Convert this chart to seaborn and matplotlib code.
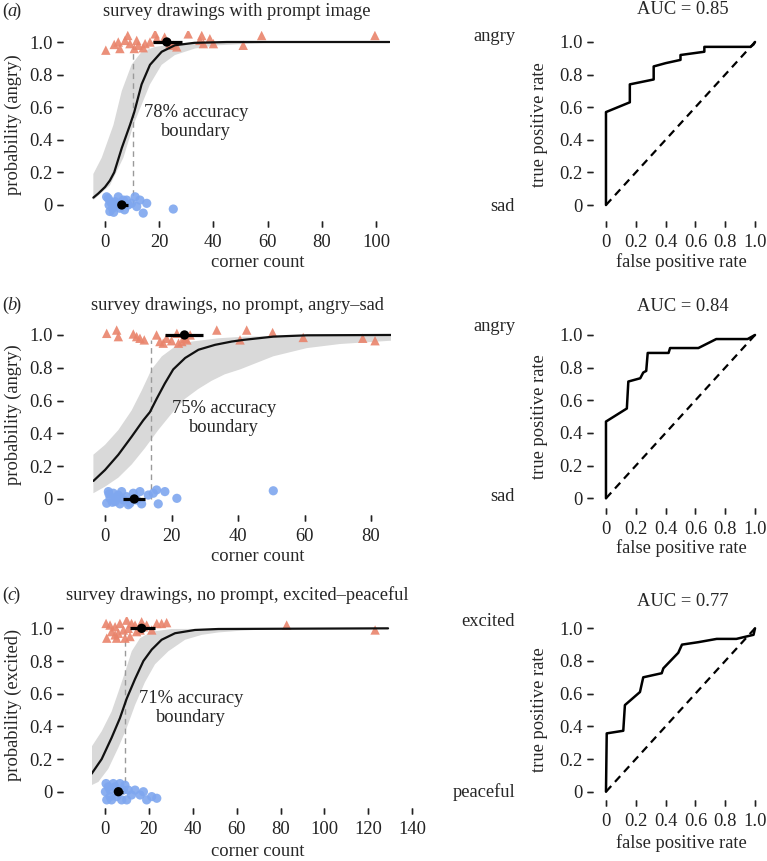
import numpy as np
import matplotlib
matplotlib.use("Agg")
import matplotlib.pyplot as plt
import seaborn as sns

W, H = 767, 861
RED = "#E9846C"
BLUE = "#7FA7EF"
BAND = "#D9D9D9"

# ---------------- panel (a): survey drawings with prompt image ----------------
a_angry_x = [0.3, 3.4, 4.9, 5.5, 7.4, 8.4, 9.2, 10.8, 11.7, 12.3, 14.1, 14.8, 16.6, 18.5,
             19.1, 22.0, 24.0, 25.2, 26.5, 30.7, 35.0, 35.7, 36.3, 38.7, 40.0, 51.0, 57.8, 99.6]
a_angry_y = [0.95, 0.985, 1.0, 0.96, 1.01, 1.04, 0.99, 0.96, 1.01, 0.98, 0.965, 0.99, 1.0, 1.05,
             1.02, 1.03, 0.99, 0.98, 0.97, 1.05, 1.01, 1.04, 0.99, 1.02, 0.99, 0.98, 1.04, 1.04]
a_sad_x = [0.6, 1.2, 1.8, 1.5, 2.5, 2.8, 3.7, 3.2, 4.9, 5.5, 4.2, 6.8, 8.0, 8.6, 9.8, 11.1,
           11.7, 12.9, 14.1, 15.4, 25.2, 2.0, 5.0, 7.2]
a_sad_y = [0.05, 0.04, -0.04, 0.0, 0.01, -0.02, 0.02, -0.045, 0.05, -0.02, 0.0, 0.03, 0.03, 0.0,
           0.01, 0.05, -0.01, 0.03, -0.05, 0.01, -0.025, 0.02, 0.01, -0.03]
a_curve_x = [-4.3, -2.5, 0.0, 1.8, 3.4, 6.2, 9.2, 10.8, 13.5, 16.6, 20.9, 25.8, 33.0, 45.0, 105.0]
a_curve_p = [0.045, 0.07, 0.11, 0.15, 0.20, 0.35, 0.49, 0.57, 0.74, 0.86, 0.94, 0.98, 0.995, 1.0, 1.0]
a_hi_x = [-4.3, -1.2, 3.1, 6.2, 9.8, 13.5, 18.5, 27.0, 40.0, 60.0, 105.0]
a_hi_p = [0.19, 0.29, 0.49, 0.70, 0.86, 0.94, 0.97, 0.99, 0.998, 1.0, 1.0]
a_lo_x = [-4.3, 1.8, 6.8, 10.5, 12.9, 16.6, 20.9, 25.8, 33.2, 41.8, 60.0, 105.0]
a_lo_p = [0.03, 0.12, 0.29, 0.49, 0.59, 0.74, 0.86, 0.92, 0.96, 0.98, 0.995, 1.0]
a_boundary = 10.5
a_mean_x = [6.2, 22.8]
a_mean_lo = [4.9, 17.8]
a_mean_hi = [8.6, 28.3]
a_fpr = [0, 0, 0.16, 0.16, 0.32, 0.32, 0.40, 0.50, 0.50, 0.66, 0.66, 0.97, 0.99, 1.0]
a_tpr = [0, 0.57, 0.63, 0.74, 0.77, 0.85, 0.87, 0.89, 0.92, 0.94, 0.97, 0.97, 0.985, 1.0]

# ---------------- panel (b): no prompt, angry-sad ----------------
b_angry_x = [0.5, 3.5, 4.0, 8.5, 9.5, 10.5, 11.8, 15.5, 16.5, 17.5, 18.5, 20.0, 21.6, 22.1,
             23.1, 24.1, 24.6, 25.6, 33.6, 40.6, 42.6, 50.4, 59.6, 77.5, 81.2]
b_angry_y = [1.01, 1.03, 0.99, 1.006, 0.99, 0.98, 0.97, 1.0, 0.96, 0.95, 0.98, 0.965, 1.01, 0.95,
             0.96, 0.98, 0.97, 1.0, 1.03, 0.97, 1.03, 1.015, 0.985, 0.98, 0.965]
b_sad_x = [0.5, 1.0, 1.5, 1.2, 2.5, 2.2, 3.0, 3.5, 4.0, 4.5, 5.0, 5.5, 6.5, 7.0, 7.5, 8.5, 9.5,
           10.5, 11.0, 13.0, 14.5, 15.5, 16.0, 18.0, 21.6, 50.6]
b_sad_y = [-0.026, 0.045, 0.004, 0.03, 0.035, -0.02, -0.016, 0.01, 0.024, -0.03, 0.045, -0.006,
           0.014, -0.035, -0.026, 0.035, -0.006, 0.045, -0.03, 0.024, 0.035, 0.055, -0.03, 0.045,
           0.004, 0.05]
b_curve_x = [-3.5, 0.0, 4.0, 8.0, 11.5, 13.5, 15.5, 18.0, 20.5, 24.1, 28.1, 33.1, 38.1, 41.6,
             50.6, 60.7, 86.0]
b_curve_p = [0.11, 0.177, 0.27, 0.38, 0.48, 0.53, 0.61, 0.705, 0.79, 0.86, 0.91, 0.94, 0.96, 0.97,
             0.99, 0.998, 1.0]
b_hi_x = [-3.5, 0.0, 4.0, 8.0, 11.0, 14.0, 17.1, 21.1, 26.1, 34.1, 42.1, 60.0, 86.0]
b_hi_p = [0.27, 0.33, 0.42, 0.54, 0.66, 0.79, 0.87, 0.93, 0.96, 0.98, 0.99, 0.995, 0.995]
b_lo_x = [-3.5, 0.0, 4.0, 8.0, 12.0, 16.0, 20.0, 24.0, 28.0, 32.0, 36.0, 40.6, 50.6, 60.7, 70.7, 86.0]
b_lo_p = [0.035, 0.075, 0.13, 0.21, 0.31, 0.42, 0.52, 0.61, 0.67, 0.72, 0.76, 0.79, 0.87, 0.92,
          0.945, 0.965]
b_boundary = 13.8
b_mean_x = [8.8, 23.9]
b_mean_lo = [5.5, 18.0]
b_mean_hi = [12.0, 29.6]
b_fpr = [0, 0, 0.14, 0.15, 0.23, 0.25, 0.27, 0.28, 0.42, 0.43, 0.62, 0.74, 0.95, 1.0]
b_tpr = [0, 0.47, 0.55, 0.715, 0.735, 0.77, 0.78, 0.89, 0.89, 0.92, 0.92, 0.975, 0.975, 1.0]

# ---------------- panel (c): no prompt, excited-peaceful ----------------
c_angry_x = [0.5, 0.8, 2.3, 3.0, 4.6, 4.6, 5.3, 6.1, 6.8, 8.4, 9.1, 9.9, 10.6, 11.4, 12.1,
             13.7, 14.4, 16.0, 16.7, 17.5, 19.0, 21.3, 23.6, 25.8, 28.1, 82.8, 123.1]
c_angry_y = [1.03, 0.94, 1.02, 0.98, 1.01, 0.96, 0.94, 0.97, 1.03, 0.99, 0.94, 1.05, 1.0, 0.95,
             1.03, 1.02, 0.98, 0.99, 1.04, 1.01, 1.02, 0.99, 1.03, 1.03, 1.035, 1.02, 0.99]
c_sad_x = [0.5, 0.8, 2.3, 4.6, 5.3, 6.8, 8.4, 9.9, 13.7, 16.0, 17.5, 19.0, 21.3, 23.6,
           1.5, 3.0, 3.8, 6.1, 7.6, 9.1, 0.2, 2.3, 10.6, 12.1]
c_sad_y = [0.05, -0.05, 0.01, 0.03, -0.03, 0.05, 0.01, -0.05, 0.01, -0.02, 0.0, -0.05, -0.03, -0.04,
           0.03, -0.05, 0.05, 0.0, -0.05, 0.04, 0.0, -0.03, 0.01, -0.02]
c_curve_x = [-6.1, -1.5, 3.0, 6.8, 9.9, 13.7, 17.5, 21.3, 25.8, 31.9, 41.0, 51.7, 129.0]
c_curve_p = [0.11, 0.20, 0.33, 0.45, 0.57, 0.69, 0.80, 0.87, 0.93, 0.97, 0.99, 0.996, 1.0]
c_hi_x = [-6.1, -1.5, 3.0, 6.1, 9.1, 12.2, 16.0, 21.3, 30.4, 129.0]
c_hi_p = [0.275, 0.37, 0.49, 0.61, 0.73, 0.86, 0.94, 0.98, 0.996, 1.0]
c_lo_x = [-6.1, -3.0, 1.5, 6.1, 9.9, 13.7, 18.2, 22.8, 28.9, 36.5, 44.1, 51.7, 61.5, 75.0, 129.0]
c_lo_p = [0.04, 0.06, 0.14, 0.27, 0.39, 0.53, 0.67, 0.78, 0.86, 0.93, 0.96, 0.975, 0.985, 0.995, 1.0]
c_boundary = 9.1
c_mean_x = [6.1, 16.7]
c_mean_lo = [4.6, 11.4]
c_mean_hi = [8.4, 22.8]
c_fpr = [0, 0.005, 0.116, 0.127, 0.228, 0.25, 0.374, 0.385, 0.485, 0.51, 0.62, 0.743, 0.875, 0.99, 1.0]
c_tpr = [0, 0.357, 0.373, 0.53, 0.61, 0.70, 0.725, 0.755, 0.85, 0.90, 0.915, 0.935, 0.935, 0.96, 1.0]

diag = [0, 1]

sns.set_theme(style="ticks")
plt.rcParams["font.family"] = ["Liberation Serif", "DejaVu Serif"]
plt.rcParams["font.size"] = 13.3
plt.rcParams.update({
    "xtick.bottom": True, "ytick.left": True,
    "xtick.direction": "out", "ytick.direction": "out",
    "xtick.major.size": 4.3, "ytick.major.size": 4.3,
    "xtick.major.width": 1.0, "ytick.major.width": 1.0,
    "xtick.color": "#222222", "ytick.color": "#222222",
})

fig = plt.figure(figsize=(W / 100, H / 100), dpi=100)


def px_axes(box):
    left, top, right, bottom = box
    return fig.add_axes([left / W, 1 - bottom / H, (right - left) / W, (bottom - top) / H])


def px_text(x, y, s, **kw):
    kw.setdefault("ha", "center")
    kw.setdefault("va", "center")
    fig.text(x / W, 1 - y / H, s, **kw)


def r_style(ax, box, left_off, bottom_off, tick_len=6.0):
    # R-like axes: no box line, detached ticks (offsets in pixels)
    left, top, right, bottom = box
    w, h = right - left, bottom - top
    sns.despine(ax=ax, top=True, right=True)
    ax.spines["left"].set_position(("outward", left_off * 0.72))
    ax.spines["bottom"].set_position(("outward", bottom_off * 0.72))
    ax.spines["left"].set_color("none")
    ax.spines["bottom"].set_color("none")
    ax.tick_params(axis="both", which="major", direction="out", length=4.3, width=1.0,
                   color="#222222", labelsize=13.3, left=True, bottom=True)
    ax.tick_params(axis="y", pad=3.3)
    ax.tick_params(axis="x", pad=5)
    ax.set_facecolor("none")
    # explicit tick segments at the tick values (axes-fraction offsets, unclipped)
    yt = ax.get_yticks()
    xt = ax.get_xticks()
    ax.hlines(yt, -(left_off + tick_len) / w, -left_off / w, colors="#222222", lw=1.0,
              transform=ax.get_yaxis_transform(), clip_on=False, zorder=10)
    ax.vlines(xt, -(bottom_off + tick_len) / h, -bottom_off / h, colors="#222222", lw=1.0,
              transform=ax.get_xaxis_transform(), clip_on=False, zorder=10)


def fit_panel(box, xlim, xticks, angry_x, angry_y, sad_x, sad_y, curve_x, curve_p,
              hi_x, hi_p, lo_x, lo_p, boundary, mean_x, mean_lo, mean_hi):
    ax = px_axes(box)
    ax.fill(np.concatenate([hi_x, lo_x[::-1]]), np.concatenate([hi_p, lo_p[::-1]]),
            color=BAND, lw=0, zorder=1)
    ax.plot([boundary, boundary], [0, 0.97], color="#9A9A9A", lw=1.0, ls=(0, (4, 3)), zorder=2)
    sns.scatterplot(x=angry_x, y=angry_y, marker="^", s=46, color=RED, edgecolor="none",
                    alpha=0.9, ax=ax, zorder=3)
    sns.scatterplot(x=sad_x, y=sad_y, marker="o", s=44, color=BLUE, edgecolor="none",
                    alpha=0.9, ax=ax, zorder=3)
    sns.lineplot(x=curve_x, y=curve_p, estimator=None, sort=False, color="#111111", lw=1.6,
                 ax=ax, zorder=4)
    for yv, lo, hi in zip([0, 1], mean_lo, mean_hi):
        ax.plot([lo, hi], [yv, yv], color="black", lw=2.3, solid_capstyle="butt", zorder=5)
    sns.scatterplot(x=mean_x, y=[0, 1], s=45, color="black", edgecolor="none", ax=ax, zorder=6)
    ax.set_yticks([0, 0.2, 0.4, 0.6, 0.8, 1.0], ["0", "0.2", "0.4", "0.6", "0.8", "1.0"])
    ax.set_xticks(xticks, [str(t) for t in xticks])
    ax.set_xlabel("")
    ax.set_ylabel("")
    r_style(ax, box, box[0] - 63, 3)
    ax.set_xlim(*xlim)
    ax.set_ylim(-0.08, 1.07)
    return ax


def roc_panel(box, fpr, tpr, bottom_off):
    ax = px_axes(box)
    sns.lineplot(x=diag, y=diag, estimator=None, sort=False, color="black", lw=1.6,
                 ls=(0, (3.5, 2.5)), ax=ax)
    sns.lineplot(x=fpr, y=tpr, estimator=None, sort=False, color="black", lw=1.8, ax=ax)
    lab = ["0", "0.2", "0.4", "0.6", "0.8", "1.0"]
    ax.set_xticks([0, 0.2, 0.4, 0.6, 0.8, 1.0], lab)
    ax.set_yticks([0, 0.2, 0.4, 0.6, 0.8, 1.0], lab)
    r_style(ax, box, 9.7, bottom_off)
    ax.set_xlim(-0.02, 1.02)
    ax.set_ylim(-0.02, 1.02)
    return ax


# left column
fit_panel((91.45, 30.6, 389.55, 218.0), (-5, 105), [0, 20, 40, 60, 80, 100],
          a_angry_x, a_angry_y, a_sad_x, a_sad_y, a_curve_x, a_curve_p,
          np.array(a_hi_x), a_hi_p, np.array(a_lo_x), np.array(a_lo_p), a_boundary,
          a_mean_x, a_mean_lo, a_mean_hi)
fit_panel((93.4, 323.5, 391.0, 512.1), (-3.5, 86), [0, 20, 40, 60, 80],
          b_angry_x, b_angry_y, b_sad_x, b_sad_y, b_curve_x, b_curve_p,
          np.array(b_hi_x), b_hi_p, np.array(b_lo_x), np.array(b_lo_p), b_boundary,
          b_mean_x, b_mean_lo, b_mean_hi)
fit_panel((91.6, 616.9, 412.2, 804.8), (-6.1, 140), [0, 20, 40, 60, 80, 100, 120, 140],
          c_angry_x, c_angry_y, c_sad_x, c_sad_y, c_curve_x, c_curve_p,
          np.array(c_hi_x), c_hi_p, np.array(c_lo_x), np.array(c_lo_p), c_boundary,
          c_mean_x, c_mean_lo, c_mean_hi)

# right column
roc_panel((603, 38.7, 758, 208.3), a_fpr, a_tpr, 13)
roc_panel((603, 331.7, 758, 501.6), b_fpr, b_tpr, 6)
roc_panel((603, 625.0, 758, 795.0), c_fpr, c_tpr, 5)

# texts
titles = ["survey drawings with prompt image",
          "survey drawings, no prompt, angry\u2013sad",
          "survey drawings, no prompt, excited\u2013peaceful"]
panel_letters = ["a", "b", "c"]
title_y = [11.7, 305, 595]
for t, letter, ty in zip(titles, panel_letters, title_y):
    px_text(237, ty, t)
    px_text(2, ty, "(", ha="left")
    px_text(7, ty, letter, ha="left", style="italic")
    px_text(7 + (7.5 if letter != "c" else 6.5), ty, ")", ha="left")

ylabels = ["probability (angry)", "probability (angry)", "probability (excited)"]
for lab, yy in zip(ylabels, [125, 415, 705]):
    px_text(13, yy, lab, rotation=90)
for yy in [263, 556.7, 851.7]:
    px_text(258, yy, "corner count")

px_text(196, 122, "78% accuracy\nboundary", linespacing=1.1)
px_text(224, 418, "75% accuracy\nboundary", linespacing=1.1)
px_text(191, 708, "71% accuracy\nboundary", linespacing=1.1)

for auc, yy in zip(["AUC = 0.85", "AUC = 0.84", "AUC = 0.77"], [10, 306.7, 601.7]):
    px_text(683, yy, auc)
for yy in [125, 416.7, 710]:
    px_text(540, yy, "true positive rate", rotation=90)
for yy in [261.7, 548.3, 843.3]:
    px_text(681.7, yy, "false positive rate")

top_labels = ["angry", "angry", "excited"]
bottom_labels = ["sad", "sad", "peaceful"]
for top, bot, ty, by in zip(top_labels, bottom_labels, [36.7, 326.7, 621.7], [206.7, 496, 791.7]):
    px_text(515, ty, top, ha="right")
    px_text(515, by, bot, ha="right")

fig.savefig("out.png", dpi=100)
